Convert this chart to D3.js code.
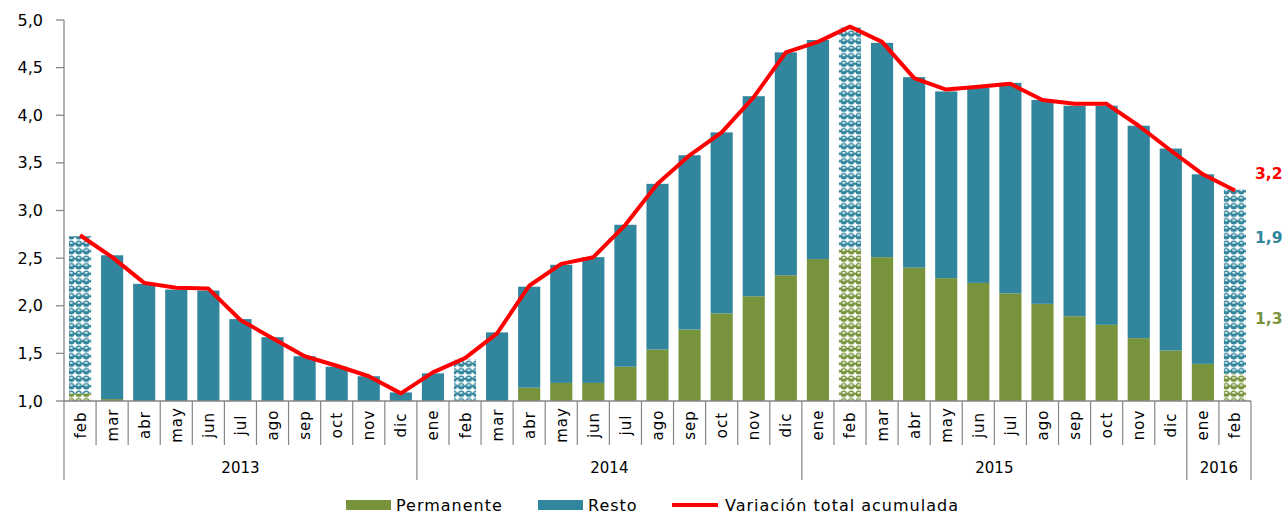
<!DOCTYPE html>
<html><head><meta charset="utf-8">
<script src="https://cdn.jsdelivr.net/npm/d3@7"></script>
<style>body{margin:0;background:#fff}svg{display:block}</style>
</head><body>
<svg id="c" width="1288" height="514"></svg>
<script>
const months = ["feb","mar","abr","may","jun","jul","ago","sep","oct","nov","dic",
  "ene","feb","mar","abr","may","jun","jul","ago","sep","oct","nov","dic",
  "ene","feb","mar","abr","may","jun","jul","ago","sep","oct","nov","dic",
  "ene","feb"];
const years = ["2013","2014","2015","2016"];
const monthsPerYear = [11,12,12,2];
const permanente = [1.08,1.02,0.98,0.96,0.94,0.92,0.90,0.88,0.87,0.86,0.88,
  0.95,0.97,0.99,1.14,1.19,1.19,1.36,1.54,1.75,1.92,2.10,2.32,
  2.49,2.60,2.51,2.40,2.29,2.24,2.13,2.02,1.89,1.80,1.66,1.53,
  1.39,1.29];
const resto = [1.65,1.51,1.25,1.21,1.22,0.94,0.77,0.59,0.49,0.40,0.21,
  0.34,0.47,0.73,1.06,1.24,1.32,1.49,1.74,1.83,1.90,2.10,2.34,
  2.30,2.32,2.25,2.00,1.96,2.05,2.21,2.14,2.21,2.30,2.23,2.12,
  1.99,1.93];
const variacion = [2.74,2.51,2.24,2.19,2.18,1.85,1.66,1.47,1.37,1.26,1.08,
  1.30,1.45,1.71,2.21,2.44,2.51,2.85,3.28,3.58,3.82,4.19,4.66,
  4.77,4.93,4.77,4.39,4.27,4.30,4.33,4.16,4.12,4.12,3.89,3.63,
  3.38,3.21];
const yTicks = [1.0,1.5,2.0,2.5,3.0,3.5,4.0,4.5,5.0];
const endLabels = ["3,2","1,9","1,3"];
const legendLabels = ["Permanente","Resto","Variación total acumulada"];

(function(){
const C = {perm:"#77933C", resto:"#31859C", red:"#FF0000", axis:"#868686"};
const svg = d3.select("#c");
const L = 64, R = 1251, T = 20, B = 401;
const keys = months.map((m,i)=>i);

const x = d3.scaleBand().domain(keys).range([L,R]).paddingInner(0.31).paddingOuter(0.155);
const xb = d3.scaleBand().domain(keys).range([L,R]);
const y = d3.scaleLinear().domain([1,5]).range([B,T]);

const defs = svg.append("defs");
function makePattern(id,col){
  const s = 7.5;
  const p = defs.append("pattern").attr("id",id).attr("patternUnits","userSpaceOnUse")
    .attr("width",s).attr("height",s);
  p.append("rect").attr("width",s).attr("height",s).attr("fill","#fff");
  p.append("rect").attr("x",0).attr("y",s/2-1).attr("width",s).attr("height",2).attr("fill",col);
  p.append("circle").attr("cx",s/2).attr("cy",s/2).attr("r",3.3).attr("fill",col);
  p.append("ellipse").attr("cx",s/2).attr("cy",s/2-0.9).attr("rx",1.7).attr("ry",0.9).attr("fill","#fff").attr("opacity",0.9);
}
makePattern("pPerm",C.perm);
makePattern("pResto",C.resto);

const isPat = i => months[i]==="feb";
const lo = i => Math.max(1,permanente[i]);
const hi = i => Math.max(1,permanente[i]+resto[i]);
const g = svg.append("g");
g.selectAll("rect.perm").data(keys).join("rect").attr("class","perm")
  .attr("x",i=>x(i)).attr("width",x.bandwidth())
  .attr("y",i=>y(lo(i))).attr("height",i=>y(1)-y(lo(i)))
  .attr("fill",i=>isPat(i)?"url(#pPerm)":C.perm);
g.selectAll("rect.resto").data(keys).join("rect").attr("class","resto")
  .attr("x",i=>x(i)).attr("width",x.bandwidth())
  .attr("y",i=>y(hi(i))).attr("height",i=>y(lo(i))-y(hi(i)))
  .attr("fill",i=>isPat(i)?"url(#pResto)":C.resto);

const ax = svg.append("g");
ax.append("line").attr("x1",L).attr("x2",L).attr("y1",T).attr("y2",B).attr("stroke",C.axis).attr("stroke-width",1.3);
ax.selectAll("line.yt").data(yTicks).join("line").attr("class","yt")
  .attr("x1",L-8).attr("x2",L).attr("y1",d=>y(d)).attr("y2",d=>y(d)).attr("stroke",C.axis).attr("stroke-width",1.3);
ax.selectAll("text.yl").data(yTicks).join("text").attr("class","yl")
  .attr("x",L-21).attr("y",d=>y(d)).attr("dy","0.35em").attr("text-anchor","end")
  .attr("font-family","DejaVu Sans").attr("font-size",16).attr("fill","#000")
  .text(d=>d3.format(".1f")(d).replace(".",","));
ax.append("line").attr("x1",L).attr("x2",R).attr("y1",B).attr("y2",B).attr("stroke",C.axis).attr("stroke-width",1.5);
const bounds = d3.range(keys.length+1);
const yearStarts = [0]; monthsPerYear.reduce((a,b)=>{yearStarts.push(a+b);return a+b;},0);
const bx = b => b<keys.length?xb(b):R;
ax.selectAll("line.ms").data(bounds).join("line").attr("class","ms")
  .attr("x1",bx).attr("x2",bx)
  .attr("y1",B).attr("y2",b=>yearStarts.includes(b)?480:445)
  .attr("stroke",C.axis).attr("stroke-width",1.2);
ax.selectAll("text.ml").data(keys).join("text").attr("class","ml")
  .attr("transform",i=>`translate(${xb(i)+xb.bandwidth()/2+5.5},425) rotate(-90)`)
  .attr("text-anchor","middle").attr("font-family","DejaVu Sans").attr("font-size",15)
  .attr("letter-spacing","1px").attr("fill","#000").text(i=>months[i]);
ax.selectAll("text.yr").data(years).join("text").attr("class","yr")
  .attr("x",(d,i)=>(bx(yearStarts[i])+bx(yearStarts[i+1]))/2)
  .attr("y",473).attr("text-anchor","middle").attr("font-family","DejaVu Sans").attr("font-size",15)
  .attr("fill","#000").text(d=>d);

const line = d3.line().x((d,i)=>x(i)+x.bandwidth()/2).y(d=>y(d));
svg.append("path").datum(variacion).attr("d",line).attr("fill","none")
  .attr("stroke",C.red).attr("stroke-width",4).attr("stroke-linejoin","round");

const endCols = [C.red, C.resto, C.perm];
const endPos = [3.22+0.17, 2.72, 1.87];
svg.selectAll("text.end").data(endLabels).join("text").attr("class","end")
  .attr("x",1255).attr("y",(d,i)=>y(endPos[i])).attr("dy","0.35em")
  .attr("font-family","DejaVu Sans").attr("font-weight","bold").attr("font-size",15.5)
  .attr("fill",(d,i)=>endCols[i]).text(d=>d);

const lg = svg.append("g").attr("font-family","DejaVu Sans").attr("font-size",16).attr("letter-spacing","1px");
lg.append("rect").attr("x",346).attr("y",500).attr("width",45).attr("height",10).attr("fill",C.perm);
lg.append("text").attr("x",396).attr("y",505).attr("dy","0.35em").text(legendLabels[0]);
lg.append("rect").attr("x",538).attr("y",500).attr("width",45).attr("height",10).attr("fill",C.resto);
lg.append("text").attr("x",588).attr("y",505).attr("dy","0.35em").text(legendLabels[1]);
lg.append("line").attr("x1",672).attr("x2",718).attr("y1",505).attr("y2",505).attr("stroke",C.red).attr("stroke-width",4);
lg.append("text").attr("x",725).attr("y",505).attr("dy","0.35em").text(legendLabels[2]);
})();
</script>
</body></html>
